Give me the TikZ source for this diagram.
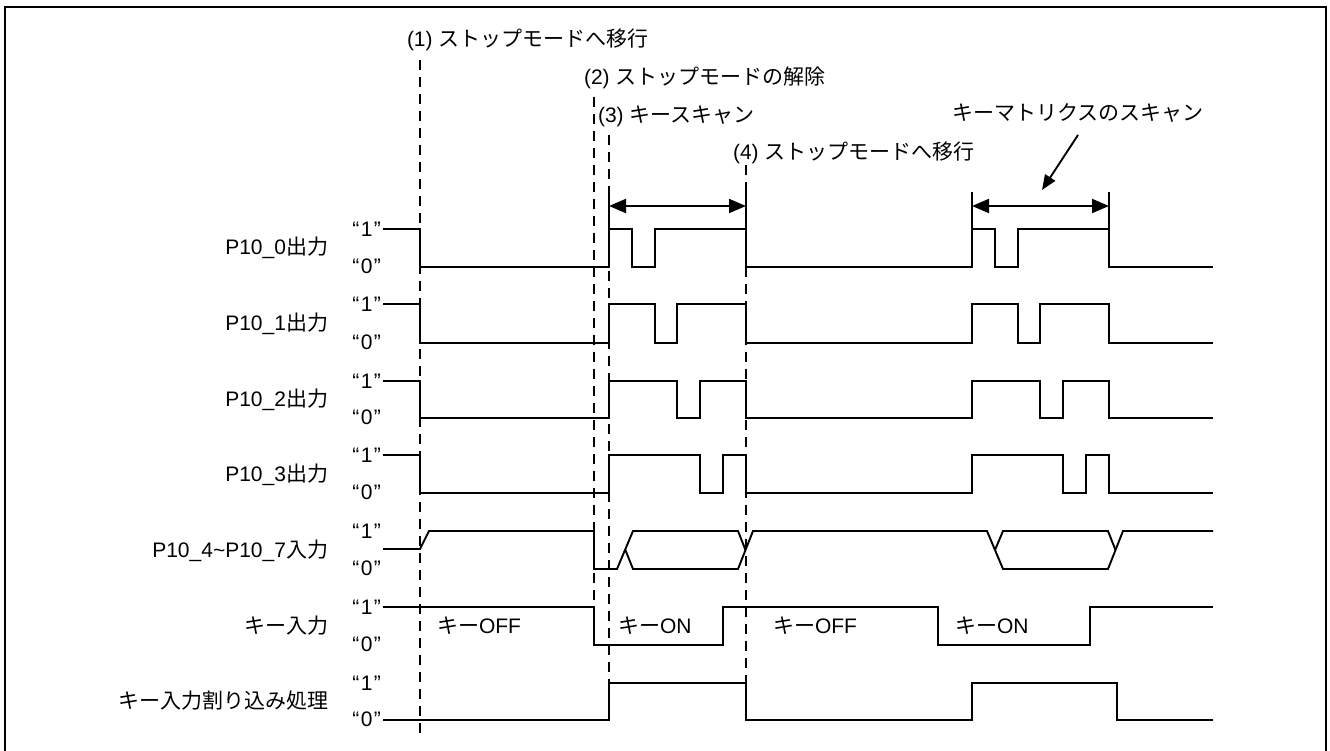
\documentclass[tikz,border=0pt]{standalone}
\usepackage{fontspec}
\setmainfont{Liberation Sans}
\newfontfamily\jp{Noto Sans CJK JP}
\usetikzlibrary{arrows.meta}
\begin{document}
\begin{tikzpicture}[x=1pt,y=-1pt,
  wave/.style={line width=1.9pt,line join=miter},
  guide/.style={line width=1.2pt,dash pattern=on 10pt off 7pt},
  ext/.style={line width=1.9pt},
  dim/.style={line width=1.9pt,{Triangle[length=17pt,width=14pt]}-{Triangle[length=17pt,width=14pt]}},
  lbl/.style={inner sep=0pt,outer sep=0pt,font=\fontsize{21}{25}\selectfont},
  ]
\useasboundingbox (0,0) rectangle (1330,751);
\draw[line width=2pt] (5,7) rectangle (1326,770);

% guide lines
\draw[guide] (420,60) -- (420,733);
\draw[guide] (594,97) -- (594,645);
\draw[guide] (609,135) -- (609,683);
\draw[guide] (746,165) -- (746,683);

% top labels
\node[lbl,anchor=base west] (l1) at (407,47) {(1) {\jp ストップモードへ移行}};
\node[lbl,anchor=base west] (l2) at (584,85) {(2) {\jp ストップモードの解除}};
\node[lbl,anchor=base west] (l3) at (598,123) {(3) {\jp キースキャン}};
\node[lbl,anchor=base west] (l4) at (733,160) {(4) {\jp ストップモードへ移行}};
\node[lbl,anchor=base west] (lm) at (952,121) {\jp キーマトリクスのスキャン};

% dimension arrows
\draw[ext] (609,192) -- (609,229);
\draw[ext] (746,192) -- (746,229);
\draw[ext] (972,192) -- (972,229);
\draw[ext] (1109,192) -- (1109,229);
\draw[dim] (609,206) -- (746,206);
\draw[dim] (972,206) -- (1109,206);
\coordinate (ms) at (1078,135);
\coordinate (me) at (1042,190);
\draw[line width=1.9pt,-{Triangle[length=15pt,width=12pt]}] (ms) -- (me);

% signal names
\node[lbl,anchor=base east] (n0) at (328,255) {P10\_0{\jp 出力}};
\node[lbl,anchor=base east] (n1) at (328,330.5) {P10\_1{\jp 出力}};
\node[lbl,anchor=base east] (n2) at (328,406.5) {P10\_2{\jp 出力}};
\node[lbl,anchor=base east] (n3) at (328,481) {P10\_3{\jp 出力}};
\node[lbl,anchor=base east] (n4) at (328,557) {P10\_4\textasciitilde P10\_7{\jp 入力}};
\node[lbl,anchor=base east] (n5) at (328,633) {\jp キー入力};
\node[lbl,anchor=base east] (n6) at (328,708.5) {\jp キー入力割り込み処理};

% level labels
\foreach \hy/\ly/\nm in {229/267/a,304/343/b,381/418/c,455/493/d,531/569/e,607/645/f,683/720/g}{
  \node[lbl,anchor=base east] (h\nm) at (381,\hy+7.5) {“\kern1.5pt 1\kern1.5pt”};
  \node[lbl,anchor=base east] (z\nm) at (381,\ly+6.5) {“\kern1.5pt 0\kern1.5pt”};
}

% waveforms
\draw[wave] (383,229) -- (420,229) -- (420,267) -- (609,267) -- (609,229) -- (632,229) -- (632,267) -- (655,267) -- (655,229) -- (746,229) -- (746,267) -- (972,267) -- (972,229) -- (995,229) -- (995,267) -- (1018,267) -- (1018,229) -- (1109,229) -- (1109,267) -- (1213,267);
\draw[wave] (383,304) -- (420,304) -- (420,343) -- (609,343) -- (609,304) -- (655,304) -- (655,343) -- (677,343) -- (677,304) -- (746,304) -- (746,343) -- (972,343) -- (972,304) -- (1018,304) -- (1018,343) -- (1040,343) -- (1040,304) -- (1109,304) -- (1109,343) -- (1213,343);
\draw[wave] (383,381) -- (420,381) -- (420,418) -- (609,418) -- (609,381) -- (677,381) -- (677,418) -- (700,418) -- (700,381) -- (746,381) -- (746,418) -- (972,418) -- (972,381) -- (1040,381) -- (1040,418) -- (1063,418) -- (1063,381) -- (1109,381) -- (1109,418) -- (1213,418);
\draw[wave] (383,455) -- (420,455) -- (420,493) -- (609,493) -- (609,455) -- (700,455) -- (700,493) -- (723,493) -- (723,455) -- (746,455) -- (746,493) -- (972,493) -- (972,455) -- (1063,455) -- (1063,493) -- (1086,493) -- (1086,455) -- (1109,455) -- (1109,493) -- (1213,493);
% P10_4-7
\draw[wave] (383,549) -- (420,549) -- (429,531) -- (594,531) -- (594,569) -- (617,569) -- (633,531) -- (738,531) -- (745.5,550);
\draw[wave] (625.4,550) -- (633,569) -- (738,569) -- (753,531) -- (987,531) -- (1003,569) -- (1108,569) -- (1123,531) -- (1213,531);
\draw[wave] (995,550) -- (1003,531) -- (1108,531) -- (1115.5,550);
% key input
\draw[wave] (383,607) -- (594,607) -- (594,645) -- (723,645) -- (723,607) -- (938,607) -- (938,645) -- (1090,645) -- (1090,607) -- (1213,607);
% interrupt
\draw[wave] (383,720) -- (609,720) -- (609,683) -- (746,683) -- (746,720) -- (972,720) -- (972,683) -- (1117,683) -- (1117,720) -- (1213,720);

% key state labels
\node[lbl,anchor=base west] (k1) at (437,633) {{\jp キー}OFF};
\node[lbl,anchor=base west] (k2) at (618,633) {{\jp キー}ON};
\node[lbl,anchor=base west] (k3) at (773,633) {{\jp キー}OFF};
\node[lbl,anchor=base west] (k4) at (955,633) {{\jp キー}ON};
\end{tikzpicture}
\end{document}
